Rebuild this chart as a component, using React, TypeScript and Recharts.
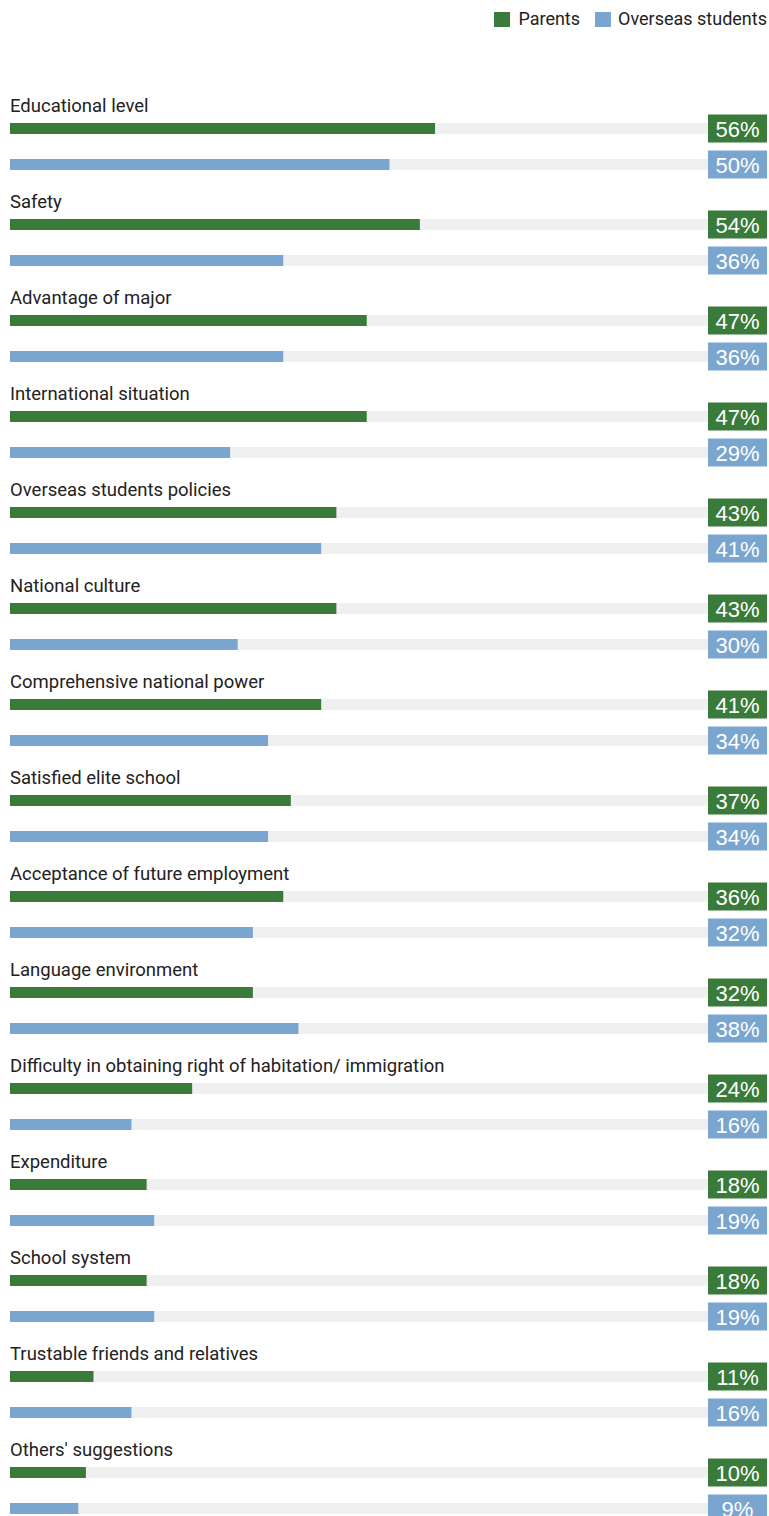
import React from "react";
import { BarChart, Bar, XAxis, YAxis, Legend, LabelList } from "recharts";

const categories = [
  "Educational level",
  "Safety",
  "Advantage of major",
  "International situation",
  "Overseas students policies",
  "National culture",
  "Comprehensive national power",
  "Satisfied elite school",
  "Acceptance of future employment",
  "Language environment",
  "Difficulty in obtaining right of habitation/ immigration",
  "Expenditure",
  "School system",
  "Trustable friends and relatives",
  "Others' suggestions",
];
const parents = [56, 54, 47, 47, 43, 43, 41, 37, 36, 32, 24, 18, 18, 11, 10];
const overseas = [50, 36, 36, 29, 41, 30, 34, 34, 32, 38, 16, 19, 19, 16, 9];

const GREEN = "#3a7a3b";
const BLUE = "#7aa5cf";
const TRACK = "#eff0f0";
const TEXT = "#222222";
const FONT = "Roboto, 'DejaVu Sans', sans-serif";

const W = 761;
const BADGE_X = 700;
const BADGE_W = 59;
const BADGE_H = 28;
const LEGEND_H = 30;

const data = categories.map((name, i) => ({
  name,
  parents: parents[i],
  overseas: overseas[i],
}));

const Track = (p: any) => (
  <rect x={p.x} y={p.y} width={BADGE_X - p.x} height={p.height} fill={TRACK} />
);

const makeBadge = (color: string) => (p: any) => {
  const cy = Number(p.y) + Number(p.height) / 2;
  return (
    <g>
      <rect x={BADGE_X} y={cy - BADGE_H / 2} width={BADGE_W} height={BADGE_H} fill={color} />
      <text
        x={BADGE_X + BADGE_W / 2}
        y={cy + 8}
        textAnchor="middle"
        fill="#ffffff"
        fontSize={22}
        fontFamily="'Liberation Sans', Arial, sans-serif"
      >
        {p.value}%
      </text>
    </g>
  );
};

const CatLabel = (p: any) => (
  <text x={p.x} y={Number(p.y) - 11} fill={TEXT} fontSize={18.5} fontFamily={FONT}>
    {p.value}
  </text>
);

const LegendBox = () => (
  <div
    style={{
      display: "flex",
      justifyContent: "flex-end",
      alignItems: "center",
      fontFamily: FONT,
      fontSize: 18,
      color: TEXT,
      lineHeight: "22px",
      whiteSpace: "nowrap",
      paddingRight: 2,
    }}
  >
    <span style={{ width: 16, height: 15, background: GREEN, display: "inline-block", marginRight: 8 }} />
    <span style={{ marginRight: 15 }}>Parents</span>
    <span style={{ width: 16, height: 15, background: BLUE, display: "inline-block", marginRight: 7 }} />
    <span>Overseas students</span>
  </div>
);

export default function App() {
  return (
    <div
      style={{
        position: "fixed",
        top: 0,
        left: 0,
        width: 769,
        height: 1516,
        overflow: "hidden",
        background: "#ffffff",
      }}
    >
      <div style={{ position: "absolute", left: 8, top: 8 }}>
        <BarChart
          width={W}
          height={1560}
          data={data}
          layout="vertical"
          margin={{ top: 90 - LEGEND_H, right: 0, bottom: 30, left: 2 }}
          barSize={11}
          barGap={25}
        >
          <XAxis type="number" domain={[0, 100]} hide />
          <YAxis type="category" dataKey="name" hide />
          <Legend
            verticalAlign="top"
            align="right"
            height={LEGEND_H}
            content={<LegendBox />}
            wrapperStyle={{ top: 0 }}
          />
          <Bar dataKey="parents" name="Parents" fill={GREEN} background={Track} isAnimationActive={false}>
            <LabelList dataKey="name" content={CatLabel} />
            <LabelList dataKey="parents" content={makeBadge(GREEN)} />
          </Bar>
          <Bar dataKey="overseas" name="Overseas students" fill={BLUE} background={Track} isAnimationActive={false}>
            <LabelList dataKey="overseas" content={makeBadge(BLUE)} />
          </Bar>
        </BarChart>
      </div>
    </div>
  );
}
